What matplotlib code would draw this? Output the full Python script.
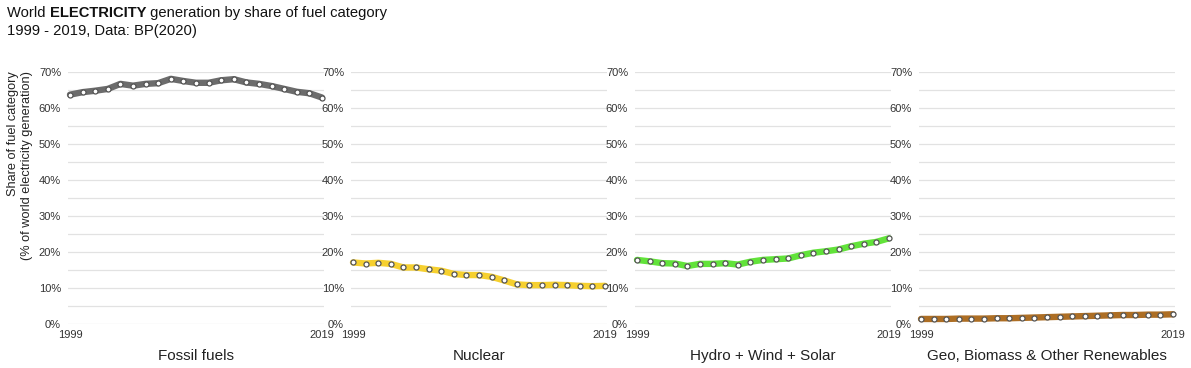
import matplotlib
matplotlib.use("Agg")
import matplotlib.pyplot as plt
import numpy as np

plt.rcParams['font.family'] = ['Liberation Sans', 'DejaVu Sans']

# Data (share of world electricity generation, %)
years = list(range(1999, 2020))
fossil = [63.7, 64.4, 64.8, 65.3, 66.7, 66.2, 66.7, 66.9, 68.1, 67.5, 67.0,
          67.0, 67.7, 68.0, 67.1, 66.7, 66.1, 65.3, 64.5, 64.1, 62.9]
nuclear = [17.1, 16.8, 17.0, 16.7, 15.7, 15.7, 15.2, 14.8, 13.9, 13.6, 13.6,
           13.1, 12.1, 11.0, 10.8, 10.8, 10.9, 10.8, 10.6, 10.5, 10.6]
hydro_wind_solar = [17.8, 17.4, 16.9, 16.8, 16.1, 16.7, 16.7, 16.9, 16.5, 17.3, 17.8,
                    18.0, 18.2, 19.1, 19.8, 20.2, 20.7, 21.6, 22.3, 22.8, 23.8]
geo_other = [1.4, 1.4, 1.4, 1.5, 1.5, 1.5, 1.6, 1.6, 1.7, 1.8, 1.9,
             2.0, 2.1, 2.2, 2.3, 2.4, 2.5, 2.5, 2.6, 2.6, 2.7]

names = ["Fossil fuels", "Nuclear", "Hydro + Wind + Solar", "Geo, Biomass & Other Renewables"]
series = [fossil, nuclear, hydro_wind_solar, geo_other]
colors = ["#6c6c6c", "#f6d02f", "#62e33a", "#ad6e24"]

W, H = 1191, 368
fig = plt.figure(figsize=(W / 100, H / 100), dpi=100)

lefts = [68, 351, 635, 919]
ax_w = 256
bottom, top = 324, 72

for i, (name, vals, col) in enumerate(zip(names, series, colors)):
    ax = fig.add_axes([lefts[i] / W, 1 - bottom / H, ax_w / W, (bottom - top) / H])
    ax.plot(years, vals, '-', color=col, lw=4.6, solid_capstyle='round', zorder=3,
            clip_on=False)
    ax.plot(years, vals, 'o', ms=3.6, mfc='white', mec='#555555', mew=0.9, zorder=4,
            clip_on=False)
    ax.set_xlim(1999 - 2 / 12.6, 2019 + 2 / 12.6)
    ax.set_ylim(0, 70)
    ax.set_yticks(np.arange(0, 71, 10))
    ax.set_yticklabels([f"{v}%" for v in range(0, 71, 10)])
    ax.set_yticks(np.arange(5, 70, 10), minor=True)
    ax.set_xticks([1999, 2019])
    ax.set_xticklabels(["1999", "2019"])
    ax.tick_params(axis='both', which='both', length=0, labelsize=8, colors='#333333')
    ax.tick_params(axis='y', pad=5)
    ax.tick_params(axis='x', pad=4)
    ax.grid(True, axis='y', which='both', color='#e2e2e2', lw=0.9)
    ax.set_axisbelow(True)
    for s in ax.spines.values():
        s.set_visible(False)
    fig.text((lefts[i] + ax_w / 2) / W, 1 - 356 / H, name, ha='center', va='center',
             fontsize=11, color='#222222')

fig.text(20 / W, 1 - 71 / H, "Share of fuel category\n(% of world electricity generation)",
         rotation=90, ha='center', va='top', multialignment='right', fontsize=9.2,
         color='#222222')

# Title with a bold word in the middle
fig.canvas.draw()
r = fig.canvas.get_renderer()
x0 = 7 / W
y1 = 1 - 13 / H
parts = [("World ", 'normal'), ("ELECTRICITY", 'bold'),
         (" generation by share of fuel category", 'normal')]
x = x0
for txt, wt in parts:
    t = fig.text(x, y1, txt, ha='left', va='center', fontsize=10.6, fontweight=wt,
                 color='#111111')
    bb = t.get_window_extent(renderer=r)
    x = bb.x1 / W
fig.text(x0, 1 - 31 / H, "1999 - 2019, Data: BP(2020)", ha='left', va='center',
         fontsize=10.6, color='#111111')

fig.savefig("out.png", dpi=100)
